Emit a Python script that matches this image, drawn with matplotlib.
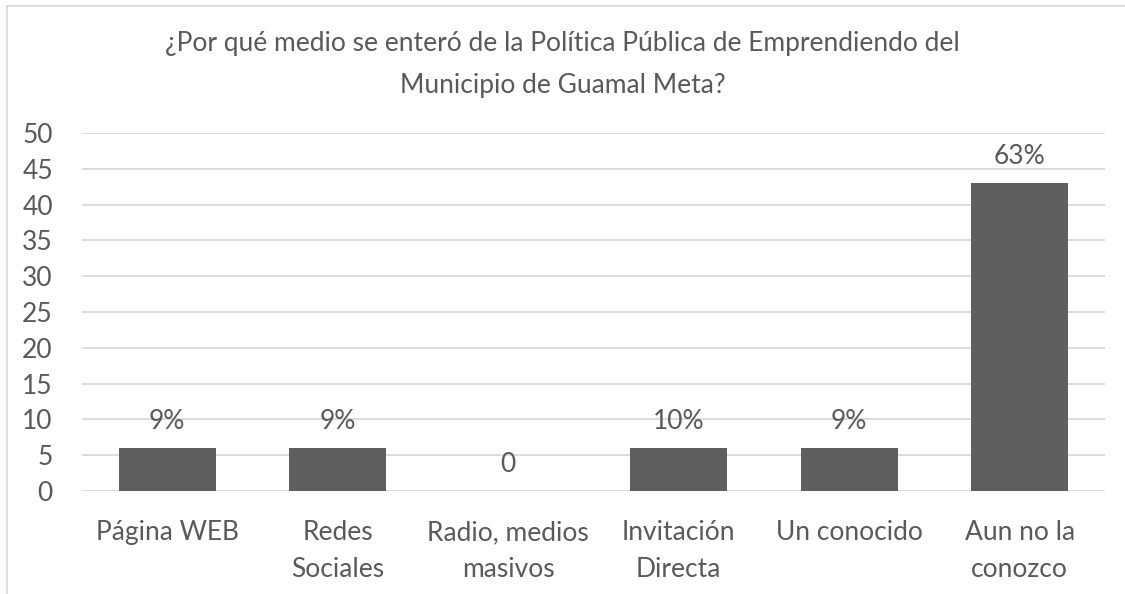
import matplotlib
matplotlib.use("Agg")
import matplotlib.pyplot as plt
from matplotlib.lines import Line2D

categories = ["Página WEB", "Redes\nSociales", "Radio, medios\nmasivos",
              "Invitación\nDirecta", "Un conocido", "Aun no la\nconozco"]
values = [6, 6, 0, 6, 6, 43]
labels = ["9%", "9%", "0", "10%", "9%", "63%"]
yticks = [0, 5, 10, 15, 20, 25, 30, 35, 40, 45, 50]
title = "¿Por qué medio se enteró de la Política Pública de Emprendiendo del\nMunicipio de Guamal Meta?"

plt.rcParams['font.family'] = ['Lato', 'DejaVu Sans']
TXT = "#595959"
GRID = "#d9d9d9"
BAR = "#5f5f5f"
FS = 19

W, H = 1125, 594
fig = plt.figure(figsize=(W/100, H/100), dpi=100)
ax = fig.add_axes([82/W, 1-491/H, (1105-82)/W, (491-133)/H])

x = list(range(len(categories)))
ax.bar(x, values, width=0.57, color=BAR, zorder=3)
ax.set_xlim(-0.5, len(categories)-0.5)
ax.set_ylim(0, 50)
ax.set_yticks(yticks)
ax.yaxis.grid(True, color=GRID, linewidth=1.3, zorder=0)
ax.set_axisbelow(True)
for s in ax.spines.values():
    s.set_visible(False)
ax.tick_params(axis='both', length=0, labelsize=FS, colors=TXT)
ax.tick_params(axis='y', pad=21)
ax.tick_params(axis='x', pad=21)
ax.set_xticks(x)
ax.set_xticklabels(categories, linespacing=1.6)

for xi, v, lab in zip(x, values, labels):
    ax.annotate(lab, (xi, v), xytext=(0, 19), textcoords='offset points',
                ha='center', va='center', fontsize=FS, color=TXT)

fig.text(0.5, 1-65/H, title, ha='center', va='center', fontsize=FS,
         color=TXT, linespacing=1.85)

fig.add_artist(Line2D([7/W, 7/W], [0, 1-6/H], transform=fig.transFigure,
                      color=GRID, linewidth=1.3))
fig.add_artist(Line2D([7/W, 1], [1-6/H, 1-6/H], transform=fig.transFigure,
                      color=GRID, linewidth=1.3))

fig.savefig("out.png", dpi=100, facecolor="white")
